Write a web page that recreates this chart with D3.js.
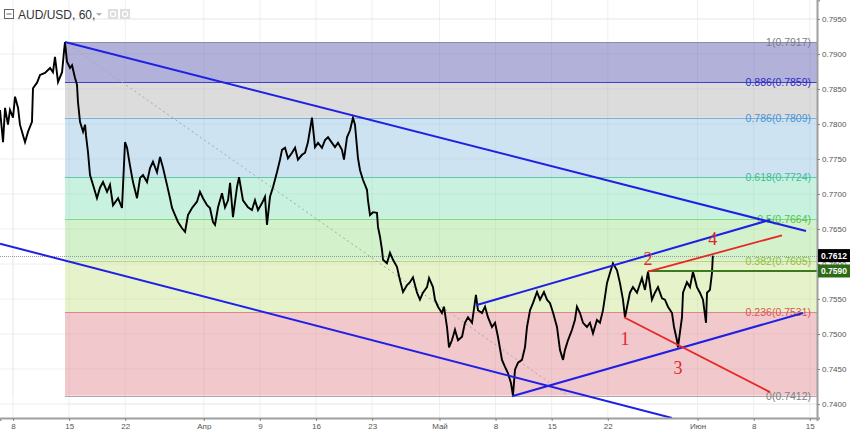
<!DOCTYPE html>
<html><head><meta charset="utf-8">
<script src="https://cdn.jsdelivr.net/npm/d3@7"></script>
<style>
html,body{margin:0;padding:0;background:#fff;}
svg{display:block;font-family:"Liberation Sans",Arial,sans-serif;}
</style>
</head><body>
<svg id="chart" width="850" height="430"></svg>
<script>
// ---- DATA (trading-day index from 8 Mar, price) ----
const priceSeries = [[-1.16,0.7820],[-0.89,0.7774],[-0.71,0.7823],[-0.45,0.7799],[-0.27,0.7820],[0,0.7809],[0.18,0.7839],[0.45,0.7823],[0.62,0.7799],[0.89,0.7784],[1.07,0.7774],[1.34,0.7789],[1.69,0.7803],[1.78,0.7851],[2.14,0.7859],[2.41,0.7870],[2.85,0.7873],[3.30,0.7880],[3.56,0.7874],[3.74,0.7896],[4.01,0.7860],[4.37,0.7874],[4.54,0.7903],[4.63,0.7917],[4.81,0.7889],[5.08,0.7880],[5.26,0.7884],[5.52,0.7866],[5.70,0.7856],[5.79,0.7831],[5.97,0.7803],[6.24,0.7789],[6.42,0.7799],[6.50,0.7784],[6.68,0.7760],[6.86,0.7727],[7.13,0.7713],[7.48,0.7694],[7.75,0.7709],[8.02,0.7717],[8.38,0.7703],[8.64,0.7713],[8.91,0.7684],[9.36,0.7694],[9.71,0.7680],[9.98,0.7774],[10.16,0.7766],[10.42,0.7741],[10.69,0.7717],[11.05,0.7694],[11.32,0.7723],[11.58,0.7727],[11.94,0.7717],[12.21,0.7737],[12.47,0.7746],[12.83,0.7731],[13.10,0.7753],[13.37,0.7737],[13.72,0.7713],[13.99,0.7694],[14.17,0.7680],[14.43,0.7670],[14.70,0.7660],[15.06,0.7651],[15.33,0.7646],[15.59,0.7670],[15.95,0.7680],[16.39,0.7689],[16.66,0.7703],[16.93,0.7694],[17.29,0.7684],[17.55,0.7680],[17.82,0.7660],[18.00,0.7656],[18.27,0.7681],[18.62,0.7701],[18.89,0.7681],[19.16,0.7691],[19.34,0.7716],[19.60,0.7667],[19.96,0.7710],[20.14,0.7724],[20.49,0.7691],[20.94,0.7681],[21.29,0.7677],[21.56,0.7691],[21.83,0.7677],[22.19,0.7687],[22.45,0.7696],[22.63,0.7656],[22.90,0.7696],[23.17,0.7710],[23.52,0.7731],[23.79,0.7749],[23.97,0.7763],[24.24,0.7766],[24.50,0.7751],[24.86,0.7759],[25.13,0.7766],[25.39,0.7749],[25.75,0.7756],[26.02,0.7759],[26.28,0.7774],[26.64,0.7809],[26.91,0.7767],[27.18,0.7773],[27.53,0.7766],[27.80,0.7777],[28.07,0.7781],[28.42,0.7773],[28.69,0.7767],[28.96,0.7773],[29.31,0.7763],[29.49,0.7749],[29.76,0.7781],[30.03,0.7791],[30.29,0.7809],[30.47,0.7799],[30.65,0.7767],[30.74,0.7751],[30.92,0.7734],[31.19,0.7720],[31.54,0.7706],[31.63,0.7691],[31.81,0.7670],[32.08,0.7674],[32.43,0.7673],[32.52,0.7653],[32.70,0.7639],[32.88,0.7620],[32.97,0.7606],[33.32,0.7601],[33.59,0.7616],[33.86,0.7606],[34.21,0.7596],[34.48,0.7577],[34.75,0.7560],[35.11,0.7570],[35.37,0.7574],[35.64,0.7581],[36.00,0.7559],[36.26,0.7549],[36.53,0.7559],[36.89,0.7567],[37.07,0.7580],[37.42,0.7567],[37.60,0.7549],[37.87,0.7539],[38.22,0.7530],[38.40,0.7539],[38.67,0.7510],[38.85,0.7481],[39.11,0.7491],[39.38,0.7506],[39.65,0.7491],[40.01,0.7496],[40.27,0.7516],[40.54,0.7524],[40.90,0.7516],[41.25,0.7556],[41.43,0.7534],[41.79,0.7530],[42.06,0.7539],[42.32,0.7524],[42.68,0.7510],[42.95,0.7516],[43.21,0.7496],[43.57,0.7463],[43.84,0.7453],[44.10,0.7444],[44.37,0.7430],[44.55,0.7412],[44.73,0.7449],[45.00,0.7459],[45.35,0.7463],[45.62,0.7481],[45.80,0.7510],[46.07,0.7534],[46.33,0.7544],[46.69,0.7560],[46.96,0.7549],[47.31,0.7560],[47.58,0.7549],[47.85,0.7544],[48.11,0.7531],[48.47,0.7510],[48.74,0.7477],[49.01,0.7463],[49.18,0.7477],[49.45,0.7491],[49.81,0.7506],[50.07,0.7520],[50.25,0.7539],[50.52,0.7530],[50.79,0.7516],[51.14,0.7510],[51.41,0.7516],[51.68,0.7501],[52.03,0.7520],[52.30,0.7516],[52.57,0.7534],[52.93,0.7573],[53.19,0.7587],[53.46,0.7601],[53.82,0.7591],[54.08,0.7573],[54.35,0.7549],[54.53,0.7524],[54.97,0.7559],[55.24,0.7567],[55.60,0.7559],[56.04,0.7580],[56.31,0.7563],[56.58,0.7589],[56.93,0.7549],[57.20,0.7559],[57.47,0.7567],[57.83,0.7551],[58.09,0.7549],[58.36,0.7539],[58.72,0.7530],[58.90,0.7510],[59.16,0.7491],[59.25,0.7481],[59.61,0.7524],[59.70,0.7559],[60.05,0.7574],[60.32,0.7567],[60.59,0.7589],[60.94,0.7567],[61.21,0.7559],[61.48,0.7549],[61.75,0.7516],[61.84,0.7559],[62.10,0.7563],[62.28,0.7587],[62.36,0.7612]];

const xTickDays = [0,5,10,17,22,27,32,38,43,48,53,61,66,71];
const xTickLabels = ["8","15","22","Апр","9","16","23","Май","8","15","22","Июн","8","15"];
const yTickValues = [0.7400,0.7450,0.7500,0.7550,0.7600,0.7650,0.7700,0.7750,0.7800,0.7850,0.7900,0.7950];

const fibStart = [4.63, 0.7917];
const fibEnd = [49.45, 0.7412];
const fibRatios = [1, 0.886, 0.786, 0.618, 0.5, 0.382, 0.236, 0];

const blueLines = [
  [[4.63,0.7917],[70.66,0.7647]],
  [[-1.16,0.7629],[58.72,0.7380]],
  [[44.46,0.7411],[70.39,0.7530]],
  [[41.25,0.7541],[67.45,0.7663]]
];
const redLines = [
  [[54.44,0.7524],[67.45,0.7417]],
  [[56.58,0.7589],[68.52,0.7641]]
];
const levelLineStart = [56.58, 0.7590];
const lastPrice = 0.7612;
const wavePoints = [[54.53,0.7524],[56.58,0.7589],[59.25,0.7481],[62.36,0.7612]];
const waveLabels = ["1","2","3","4"];

// ---- STYLE ----
const W = 850, H = 430, plotR = 817, plotB = 418;
const bandFill = ["#b1b1da","#dcdcdc","#cde3f1","#c9f1e0","#d3f1cb","#e6f2ca","#f1c8cb"];
const levelStroke = ["#8c8c9c","#4040c8","#7ab0dc","#62cba4","#82d882","#b2d478","#d88a8a","#a8a8a8"];
const labelFill = ["#7d7d8a","#2b2bc4","#4b93d0","#3cbf8c","#4cc64c","#8fc03e","#e05252","#808080"];
const waveOffset = [22, -13, 21, -17];

const svg = d3.select("#chart");
const x = d3.scaleLinear().domain([-1.16, 71.64]).range([0, plotR]);
const y = d3.scaleLinear().domain([0.7380, 0.79771]).range([plotB, 0]);

svg.append("defs").append("clipPath").attr("id","clip")
  .append("rect").attr("x",0).attr("y",0).attr("width",plotR).attr("height",plotB);

const plot = svg.append("g").attr("clip-path","url(#clip)");

// grid
plot.append("g").selectAll("line").data(xTickDays).join("line")
  .attr("x1",d=>x(d)).attr("x2",d=>x(d)).attr("y1",0).attr("y2",plotB)
  .attr("stroke","#efefef").attr("stroke-width",1);
plot.append("g").selectAll("line").data(yTickValues).join("line")
  .attr("x1",0).attr("x2",plotR).attr("y1",d=>y(d)).attr("y2",d=>y(d))
  .attr("stroke","#efefef").attr("stroke-width",1);

// fib bands
const fibRange = fibStart[1] - fibEnd[1];
const fibLevels = fibRatios.map(r => fibEnd[1] + r * fibRange);
const bands = d3.pairs(fibLevels);
plot.append("g").selectAll("rect").data(bands).join("rect")
  .attr("x", x(fibStart[0])).attr("width", plotR - x(fibStart[0]))
  .attr("y", d => y(d[0])).attr("height", d => y(d[1]) - y(d[0]))
  .attr("fill", (d,i) => bandFill[i]);

// faint grid over bands
plot.append("g").selectAll("line").data(xTickDays).join("line")
  .attr("x1",d=>x(d)).attr("x2",d=>x(d)).attr("y1",y(fibLevels[0])).attr("y2",y(fibLevels[7]))
  .attr("stroke","rgba(0,0,0,0.04)");
plot.append("g").selectAll("line").data(yTickValues).join("line")
  .attr("x1",x(fibStart[0])).attr("x2",plotR).attr("y1",d=>y(d)).attr("y2",d=>y(d))
  .attr("stroke","rgba(0,0,0,0.04)");

// level lines
plot.append("g").selectAll("line").data(fibLevels).join("line")
  .attr("x1", x(fibStart[0])).attr("x2", plotR)
  .attr("y1", d => Math.round(y(d))+0.5).attr("y2", d => Math.round(y(d))+0.5)
  .attr("stroke", (d,i) => levelStroke[i]).attr("stroke-width",1);

// fib labels
plot.append("g").selectAll("text").data(fibLevels).join("text")
  .attr("x", plotR - 6).attr("y", d => y(d))
  .attr("text-anchor","end").attr("dominant-baseline","central")
  .attr("font-size","10.5px").attr("fill",(d,i)=>labelFill[i])
  .text((d,i) => `${fibRatios[i]}(${d.toFixed(4)})`);

// fib trend dotted line
plot.append("line")
  .attr("x1", x(fibStart[0])).attr("y1", y(fibStart[1]))
  .attr("x2", x(fibEnd[0])).attr("y2", y(fibEnd[1]))
  .attr("stroke","#a8a8a8").attr("stroke-width",1).attr("stroke-dasharray","2,3");

// last price dotted line
plot.append("line").attr("x1",0).attr("x2",plotR)
  .attr("y1", Math.round(y(lastPrice))+0.5).attr("y2", Math.round(y(lastPrice))+0.5)
  .attr("stroke","#9a9a9a").attr("stroke-width",1).attr("stroke-dasharray","1,1");

// price line
const line = d3.line().x(d => x(d[0])).y(d => y(d[1]));
plot.append("path").datum(priceSeries).attr("d", line)
  .attr("fill","none").attr("stroke","#000").attr("stroke-width",1.9).attr("stroke-linejoin","miter");

// green horizontal line
plot.append("line")
  .attr("x1", x(levelLineStart[0])).attr("x2", plotR)
  .attr("y1", y(levelLineStart[1])).attr("y2", y(levelLineStart[1]))
  .attr("stroke","#3d7a1f").attr("stroke-width",2);

// blue lines
plot.append("g").selectAll("path").data(blueLines).join("path")
  .attr("d", line).attr("fill","none").attr("stroke","#1f1fe6").attr("stroke-width",2);
// red lines
plot.append("g").selectAll("path").data(redLines).join("path")
  .attr("d", line).attr("fill","none").attr("stroke","#e82626").attr("stroke-width",1.8);

// wave labels
plot.append("g").selectAll("text").data(wavePoints).join("text")
  .attr("x", d => x(d[0])).attr("y", (d,i) => y(d[1]) + waveOffset[i])
  .attr("text-anchor","middle").attr("dominant-baseline","central")
  .attr("font-family","'Liberation Serif','Times New Roman',serif")
  .attr("font-size","18px").attr("fill","#e02828")
  .text((d,i) => waveLabels[i]);

// axes
const yAxis = svg.append("g").attr("transform",`translate(${plotR},0)`)
  .call(d3.axisRight(y).tickValues(yTickValues).tickFormat(d3.format(".4f")).tickSize(3).tickPadding(2));
yAxis.select(".domain").attr("stroke","#a0a0a0").attr("stroke-width",2);
yAxis.selectAll(".tick line").attr("stroke","#888");
yAxis.selectAll(".tick text").attr("font-size","8px").attr("fill","#555").attr("font-family","'Liberation Sans',Arial,sans-serif");

const xAxis = svg.append("g").attr("transform",`translate(0,${plotB})`)
  .call(d3.axisBottom(x).tickValues(xTickDays).tickFormat((d,i)=>xTickLabels[i]).tickSize(3).tickPadding(2));
xAxis.select(".domain").attr("stroke","#a0a0a0").attr("stroke-width",2);
xAxis.selectAll(".tick line").attr("stroke","#888");
xAxis.selectAll(".tick text").attr("font-size","8px").attr("fill","#555").attr("font-family","'Liberation Sans',Arial,sans-serif");

// price tags on axis
const tags = [[lastPrice,"#000"],[levelLineStart[1],"#2d6a16"]];
tags.forEach(([v,col]) => {
  const g = svg.append("g").attr("transform",`translate(${plotR},${y(v)})`);
  g.append("rect").attr("x",1).attr("y",-6.5).attr("width",32).attr("height",13).attr("fill",col);
  g.append("text").attr("x",4).attr("y",0).attr("dominant-baseline","central")
    .attr("font-size","8.5px").attr("font-weight","bold").attr("fill","#fff").text(v.toFixed(4));
});

// title bar
const title = svg.append("g");
title.append("rect").attr("x",4.5).attr("y",9.5).attr("width",9).attr("height",9)
  .attr("fill","#fff").attr("stroke","#666").attr("stroke-width",1);
title.append("line").attr("x1",6.5).attr("x2",11.5).attr("y1",14).attr("y2",14).attr("stroke","#666");
title.append("text").attr("x",18).attr("y",18.5).attr("font-size","12px").attr("fill","#333").text("AUD/USD, 60,");
title.append("path").attr("d","M96,13 L102,13 L99,16 Z").attr("fill","#b0b0b0");
[108,120].forEach(px => {
  title.append("rect").attr("x",px).attr("y",9).attr("width",10).attr("height",10).attr("fill","#dedede");
  title.append("circle").attr("cx",px+5).attr("cy",14).attr("r",2.6).attr("fill","none").attr("stroke","#fff").attr("stroke-width",1.2);
});
</script>
</body></html>
